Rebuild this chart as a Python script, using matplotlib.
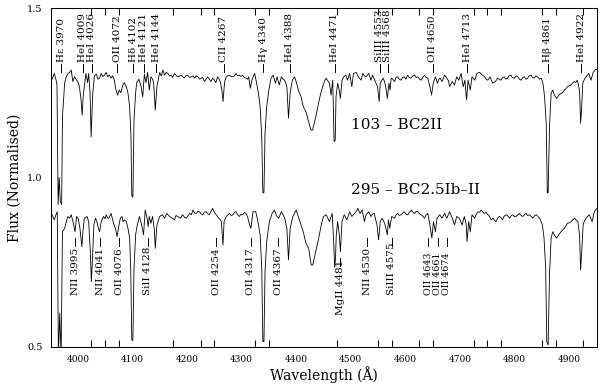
import matplotlib
matplotlib.use("Agg")
import matplotlib.pyplot as plt

plt.rcParams['font.family'] = ['DejaVu Serif']

# spectrum of star 103 (upper trace)
wl_top = [3950, 3953, 3957, 3961, 3962, 3964, 3966, 3968, 3970.5, 3972, 3976, 3979, 3981, 3985, 3988, 3991,
          3994, 3997, 4000, 4003, 4006, 4008, 4010, 4012, 4015, 4018, 4020, 4022.5, 4024.5, 4027.5, 4030.5,
          4034, 4037, 4040, 4043, 4046, 4049, 4052, 4055, 4058, 4061, 4064, 4067, 4070, 4073, 4076, 4079,
          4082, 4085, 4089, 4092, 4095, 4097.5, 4099, 4101, 4103, 4106, 4108, 4112, 4116, 4119, 4122, 4125,
          4128, 4131, 4134, 4137, 4139, 4142, 4145, 4150, 4153, 4156, 4159, 4162, 4165, 4168, 4171, 4174,
          4177, 4181, 4184, 4189, 4192, 4195, 4198, 4201, 4205, 4208, 4211, 4214, 4217, 4220, 4223, 4226,
          4229, 4232, 4235, 4238, 4241, 4244, 4247, 4250, 4253, 4256, 4259, 4261, 4264, 4266, 4269, 4272,
          4275, 4278, 4281, 4284, 4287, 4290, 4293, 4296, 4299, 4302, 4305, 4308, 4311, 4313, 4316, 4319,
          4322, 4324, 4327, 4331, 4334, 4337, 4339, 4341, 4343, 4346, 4350, 4354, 4358, 4362, 4365, 4369,
          4373, 4376, 4379, 4383, 4386, 4389, 4393, 4397, 4400, 4404, 4409, 4413, 4418, 4422, 4427, 4430,
          4433, 4436, 4441, 4445, 4449, 4452, 4455, 4458, 4461, 4464, 4467, 4469.5, 4471.5, 4473, 4476,
          4479, 4481, 4484, 4487, 4491, 4494, 4498, 4502, 4505, 4510, 4514, 4519, 4522, 4525, 4528, 4533,
          4537, 4540, 4545, 4549, 4552, 4554, 4559, 4562, 4565, 4567, 4570, 4572, 4574, 4577, 4580, 4583,
          4586, 4589, 4592, 4595, 4598, 4601, 4604, 4607, 4610, 4614, 4617, 4620, 4623, 4626, 4629, 4632,
          4635, 4638, 4641, 4645, 4648, 4651, 4655, 4659, 4661, 4664, 4667, 4672, 4676, 4679, 4681, 4686,
          4690, 4694, 4698, 4702, 4706, 4709, 4712, 4715, 4719, 4722, 4727, 4731, 4736, 4741, 4745, 4748,
          4751, 4755, 4760, 4765, 4769, 4772, 4775, 4778, 4781, 4784, 4787, 4790, 4793, 4796, 4800, 4803,
          4806, 4809, 4812, 4815, 4818, 4821, 4824, 4827, 4830, 4833, 4836, 4839, 4842, 4846, 4849, 4852,
          4855, 4858, 4860, 4861.5, 4864, 4867, 4870, 4873, 4877, 4881, 4885, 4888, 4891, 4894, 4897, 4900,
          4903, 4906, 4909, 4912, 4915, 4919, 4921, 4923, 4925, 4928, 4931, 4936, 4940, 4944, 4949, 4951]
fx_top = [1.302, 1.290, 1.307, 1.283, 1.27, 0.92, 1.0, 0.93, 0.92, 1.18, 1.279, 1.297, 1.305, 1.31, 1.317, 1.283,
          1.297, 1.29, 1.283, 1.268, 1.23, 1.184, 1.24, 1.268, 1.307, 1.28, 1.307, 1.25, 1.12, 1.249, 1.30,
          1.305, 1.29, 1.293, 1.307, 1.298, 1.302, 1.31, 1.297, 1.302, 1.293, 1.30, 1.287, 1.258, 1.243, 1.258, 1.25,
          1.27, 1.28, 1.268, 1.249, 1.209, 1.12, 0.945, 0.942, 1.17, 1.25, 1.28, 1.29, 1.268, 1.238, 1.305, 1.28,
          1.31, 1.258, 1.297, 1.29, 1.28, 1.199, 1.268, 1.31, 1.30, 1.317, 1.302, 1.31, 1.307, 1.30, 1.302, 1.295,
          1.307, 1.30, 1.297, 1.302, 1.298, 1.293, 1.30, 1.302, 1.295, 1.297, 1.30, 1.293, 1.30, 1.297, 1.29, 1.293,
          1.295, 1.283, 1.29, 1.297, 1.29, 1.283, 1.293, 1.288, 1.28, 1.297, 1.29, 1.283, 1.258, 1.224, 1.283, 1.297,
          1.30, 1.302, 1.298, 1.297, 1.30, 1.307, 1.30, 1.302, 1.298, 1.302, 1.295, 1.293, 1.29, 1.297, 1.263, 1.287,
          1.30, 1.307, 1.283, 1.248, 1.209, 1.12, 0.955, 0.955, 1.13, 1.209, 1.258, 1.293, 1.302, 1.278, 1.297, 1.273,
          1.297, 1.29, 1.287, 1.268, 1.175, 1.25, 1.287, 1.297, 1.283, 1.258, 1.238, 1.209, 1.194, 1.17, 1.14, 1.14,
          1.16, 1.179, 1.219, 1.248, 1.27, 1.285, 1.293, 1.285, 1.278, 1.243, 1.287, 1.106, 1.11, 1.238, 1.278,
          1.258, 1.233, 1.287, 1.297, 1.302, 1.287, 1.307, 1.268, 1.307, 1.31, 1.297, 1.287, 1.307, 1.30, 1.297, 1.307,
          1.287, 1.302, 1.283, 1.268, 1.224, 1.278, 1.293, 1.283, 1.258, 1.233, 1.278, 1.258, 1.293, 1.29, 1.283, 1.295,
          1.297, 1.29, 1.287, 1.295, 1.297, 1.29, 1.302, 1.295, 1.293, 1.30, 1.302, 1.295, 1.297, 1.29, 1.287, 1.295,
          1.302, 1.295, 1.293, 1.268, 1.243, 1.278, 1.297, 1.278, 1.29, 1.293, 1.283, 1.302, 1.293, 1.285, 1.268, 1.283,
          1.273, 1.297, 1.287, 1.307, 1.268, 1.287, 1.229, 1.287, 1.258, 1.297, 1.287, 1.307, 1.31, 1.302, 1.297, 1.29,
          1.287, 1.297, 1.278, 1.283, 1.293, 1.29, 1.287, 1.295, 1.297, 1.29, 1.293, 1.30, 1.302, 1.295, 1.293, 1.30,
          1.297, 1.29, 1.287, 1.295, 1.297, 1.29, 1.293, 1.30, 1.302, 1.295, 1.293, 1.30, 1.297, 1.29, 1.293, 1.278,
          1.238, 1.16, 0.955, 0.955, 1.15, 1.248, 1.258, 1.243, 1.233, 1.243, 1.248, 1.25, 1.258, 1.262, 1.268, 1.27,
          1.273, 1.278, 1.283, 1.28, 1.287, 1.258, 1.16, 1.21, 1.278, 1.29, 1.297, 1.307, 1.287, 1.31, 1.32, 1.318]

# spectrum of star 295 (lower trace)
wl_bot = [3950, 3953, 3957, 3960, 3962.5, 3964.5, 3967, 3969.5, 3972, 3976, 3979, 3982, 3985, 3988, 3992, 3995,
          3998, 4001, 4004, 4007.5, 4009.5, 4012, 4017, 4020, 4023, 4025, 4027.5, 4029.5, 4032.5, 4035, 4037,
          4040, 4043, 4047, 4050, 4052, 4055, 4057, 4061, 4065.5, 4069, 4072, 4075, 4078, 4081, 4083, 4086,
          4089, 4092, 4095, 4097, 4099, 4101, 4103, 4106, 4109, 4113, 4117, 4120.5, 4123.5, 4127, 4129, 4131,
          4134, 4137, 4140, 4142, 4145, 4150, 4155, 4159, 4163, 4168, 4173, 4177, 4180, 4183, 4188, 4192,
          4196, 4199, 4202, 4205, 4208, 4211, 4214, 4217, 4220, 4223, 4226, 4229, 4232, 4235, 4238, 4241,
          4244, 4247, 4250, 4253.5, 4256, 4258, 4261, 4263, 4266, 4268, 4272, 4275, 4278, 4281, 4284, 4287,
          4290, 4293, 4296, 4299, 4302, 4305, 4308, 4311, 4313, 4317, 4321, 4326, 4330, 4334, 4337, 4339,
          4341, 4343, 4346, 4351, 4356, 4360, 4365, 4368, 4373, 4376, 4379, 4383, 4386, 4389, 4394, 4400,
          4405, 4409, 4413, 4418, 4423, 4427.5, 4430.5, 4435, 4440, 4446, 4450, 4455, 4461, 4466, 4469,
          4470.5, 4472, 4473.5, 4476, 4479, 4481, 4484, 4488, 4493, 4498, 4502, 4507, 4510, 4513, 4517, 4521,
          4525, 4528, 4533, 4537, 4540, 4543, 4548, 4551, 4554, 4557.5, 4562, 4565, 4567, 4569, 4571.5, 4575,
          4580, 4583, 4586, 4589, 4592, 4595, 4598, 4601, 4604.5, 4608, 4611, 4614, 4617, 4620, 4623, 4626,
          4629, 4632, 4635, 4638, 4641, 4645, 4648.5, 4651.5, 4655, 4658, 4663, 4667, 4672, 4676, 4681, 4686,
          4690, 4694, 4699, 4704, 4708, 4711.5, 4713, 4716, 4719, 4722, 4727, 4730, 4733, 4736, 4739, 4742,
          4745, 4748, 4751, 4754, 4757, 4761, 4763, 4766, 4769, 4772, 4775, 4778, 4781, 4785, 4788, 4791,
          4794, 4797, 4800, 4803, 4806, 4809, 4812, 4815, 4818, 4821, 4824, 4827, 4830, 4833.5, 4837, 4840,
          4843, 4846, 4851, 4854, 4857, 4859, 4861.5, 4864, 4867, 4870, 4873, 4877, 4881, 4885, 4888, 4891,
          4894, 4897, 4900, 4903.6, 4907, 4910, 4913, 4916, 4919, 4921, 4923, 4925.6, 4928, 4931, 4934, 4937,
          4942, 4946, 4951]
fx_bot = [0.880, 0.890, 0.875, 0.890, 0.899, 0.47, 0.60, 0.47, 0.84, 0.850, 0.870, 0.885, 0.880, 0.890, 0.865, 0.84,
          0.885, 0.878, 0.850, 0.796, 0.84, 0.880, 0.885, 0.870, 0.781, 0.693, 0.781, 0.860, 0.880, 0.87, 0.855,
          0.840, 0.870, 0.885, 0.878, 0.890, 0.88, 0.880, 0.894, 0.865, 0.85, 0.826, 0.855, 0.880, 0.885, 0.87, 0.875,
          0.870, 0.850, 0.821, 0.732, 0.52, 0.52, 0.732, 0.831, 0.86, 0.885, 0.86, 0.831, 0.904, 0.880, 0.855, 0.885,
          0.865, 0.885, 0.85, 0.791, 0.860, 0.885, 0.890, 0.880, 0.894, 0.885, 0.880, 0.875, 0.888, 0.885, 0.880, 0.890,
          0.882, 0.880, 0.888, 0.894, 0.89, 0.904, 0.895, 0.894, 0.90, 0.899, 0.892, 0.890, 0.898, 0.899, 0.893, 0.890,
          0.90, 0.909, 0.898, 0.890, 0.885, 0.880, 0.876, 0.870, 0.801, 0.870, 0.885, 0.89, 0.894, 0.888, 0.890, 0.897,
          0.899, 0.89, 0.885, 0.892, 0.890, 0.897, 0.894, 0.885, 0.870, 0.85, 0.899, 0.899, 0.870, 0.831, 0.732, 0.516,
          0.516, 0.722, 0.811, 0.870, 0.894, 0.904, 0.885, 0.880, 0.899, 0.89, 0.880, 0.850, 0.757, 0.85, 0.885, 0.904,
          0.880, 0.860, 0.840, 0.806, 0.791, 0.742, 0.742, 0.776, 0.811, 0.860, 0.885, 0.890, 0.870, 0.894, 0.80,
          0.735, 0.76, 0.831, 0.870, 0.831, 0.781, 0.870, 0.890, 0.875, 0.899, 0.885, 0.894, 0.90, 0.909, 0.894, 0.904,
          0.870, 0.890, 0.899, 0.885, 0.892, 0.894, 0.860, 0.816, 0.870, 0.880, 0.865, 0.845, 0.831, 0.875, 0.85, 0.885,
          0.880, 0.89, 0.894, 0.888, 0.890, 0.895, 0.899, 0.892, 0.890, 0.898, 0.904, 0.897, 0.894, 0.90, 0.899, 0.893,
          0.890, 0.886, 0.880, 0.89, 0.894, 0.860, 0.821, 0.870, 0.840, 0.880, 0.890, 0.880, 0.894, 0.880, 0.899, 0.880,
          0.860, 0.885, 0.880, 0.860, 0.885, 0.860, 0.811, 0.870, 0.840, 0.890, 0.880, 0.892, 0.899, 0.897, 0.904, 0.898,
          0.894, 0.897, 0.890, 0.886, 0.875, 0.880, 0.874, 0.870, 0.88, 0.885, 0.882, 0.875, 0.886, 0.890, 0.886, 0.880,
          0.888, 0.890, 0.884, 0.885, 0.89, 0.894, 0.888, 0.885, 0.89, 0.894, 0.888, 0.890, 0.886, 0.880, 0.888, 0.890,
          0.885, 0.880, 0.860, 0.821, 0.732, 0.516, 0.506, 0.713, 0.821, 0.840, 0.831, 0.821, 0.831, 0.840, 0.845, 0.850,
          0.857, 0.865, 0.866, 0.870, 0.875, 0.880, 0.874, 0.870, 0.831, 0.727, 0.781, 0.860, 0.872, 0.880, 0.886, 0.890,
          0.870, 0.899, 0.909]

top_names = ["Hε 3970", "HeI 4009", "HeI 4026", "OII 4072", "Hδ 4102", "HeI 4121", "HeI 4144", "CII 4267",
             "Hγ 4340", "HeI 4388", "HeI 4471", "SiIII 4553", "SiIII 4568", "OII 4650", "HeI 4713",
             "Hβ 4861", "HeI 4922"]
top_waves = [3970, 4009, 4026, 4072, 4102, 4121, 4144, 4267, 4340, 4388, 4471, 4553, 4568, 4650, 4713, 4861, 4922]

bot_names = ["NII 3995", "NII 4041", "OII 4076", "SiII 4128", "OII 4254", "OII 4317", "OII 4367", "MgII 4481",
             "NII 4530", "SiIII 4575", "OII 4643", "OII 4661", "OII 4674"]
bot_waves = [3995, 4041, 4076, 4128, 4254, 4317, 4367, 4481, 4530, 4575, 4642, 4659, 4676]

tick_major = [4000, 4100, 4200, 4300, 4400, 4500, 4600, 4700, 4800, 4900]
tick_marks = [4025, 4050, 4075, 4100, 4175, 4200, 4225, 4250, 4325, 4350, 4400, 4475, 4500, 4550, 4575,
              4625, 4650, 4700, 4725, 4750, 4775, 4800, 4850, 4875, 4900, 4925]

fig = plt.figure(figsize=(6, 3.85), dpi=100)
ax = fig.add_axes([51/600, 1 - 347/385, 546/600, 339/385])

ax.plot(wl_top, fx_top, color='k', lw=0.6)
ax.plot(wl_bot, fx_bot, color='k', lw=0.6)

# line identifications above the upper spectrum
for name, w in zip(top_names, top_waves):
    ax.plot([w, w], [1.312, 1.336], color='k', lw=0.7)
    ax.text(w, 1.342, name, rotation=90, ha='center', va='bottom', fontsize=7.5)

# and below the lower one
for name, w in zip(bot_names, bot_waves):
    y0 = 0.653
    if name.startswith("MgII"):
        y0 = 0.594
    ax.plot([w, w], [y0 + 0.145, y0 + 0.17], color='k', lw=0.7)
    fs = 7.5
    if w > 4600:
        fs = 6.8
    ax.text(w, y0, name, rotation=90, ha='center', va='bottom', fontsize=fs)

ax.text(4500, 1.155, "103 \u2013 BC2II", fontsize=11, ha='left', va='center')
ax.text(4500, 0.963, "295 \u2013 BC2.5Ib\u2013II", fontsize=11, ha='left', va='center')

ax.set_xlim(3951, 4951)
ax.set_ylim(0.5, 1.5)
ax.set_xticks(tick_major)
ax.set_xticklabels([str(t) for t in tick_major], fontsize=6.5)
ax.set_xticks(tick_marks, minor=True)
ax.tick_params(axis='x', which='major', length=0, pad=6)
ax.tick_params(axis='x', which='minor', direction='in', length=5, width=0.75, top=True, bottom=True)
ax.set_yticks([0.5, 1.0, 1.5])
ax.set_yticklabels(['0.5', '1.0', '1.5'], fontsize=7)
ax.tick_params(axis='y', length=0, pad=6)
for s in ax.spines.values():
    s.set_linewidth(0.75)

ax.set_xlabel("Wavelength (Å)", fontsize=10, labelpad=1)
ax.set_ylabel("Flux (Normalised)", fontsize=10, labelpad=4)

fig.savefig("out.png", dpi=100)
